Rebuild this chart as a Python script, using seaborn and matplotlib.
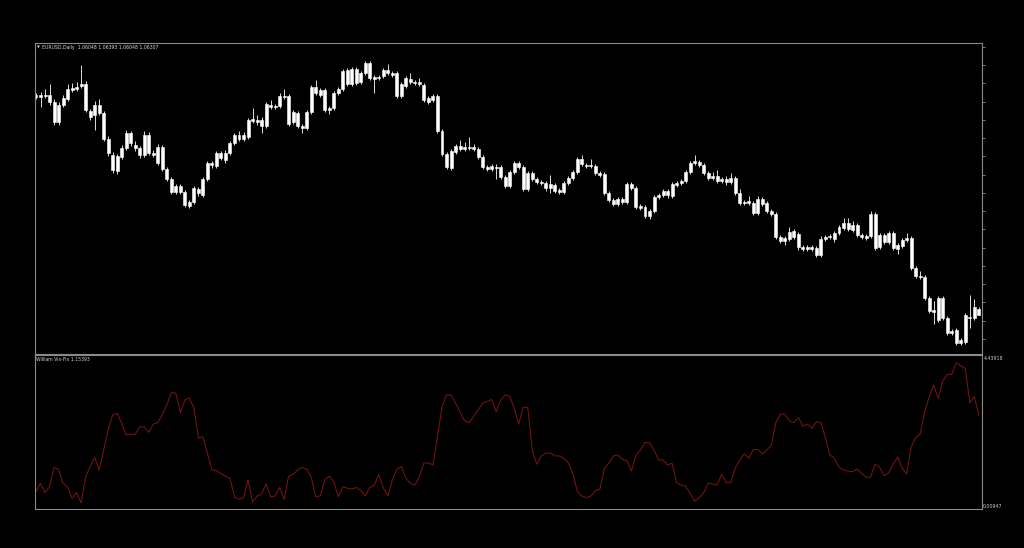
import matplotlib
matplotlib.use("Agg")
import matplotlib.pyplot as plt
import numpy as np
import pandas as pd
import seaborn as sns
from matplotlib.ticker import MultipleLocator

# EURUSD daily candles, prices in pips (price * 10000)
opens = [
    11479, 11487, 11483, 11487, 11459, 11379, 11447, 11471, 11507, 11511,
    11523, 11531, 11423, 11407, 11447, 11415, 11311, 11247, 11183, 11239,
    11275, 11335, 11287, 11275, 11247, 11327, 11255, 11215, 11279, 11191,
    11151, 11099, 11123, 11099, 11059, 11059, 11111, 11087, 11151, 11215,
    11203, 11255, 11227, 11255, 11295, 11327, 11311, 11319, 11383, 11387,
    11387, 11363, 11447, 11439, 11443, 11479, 11483, 11379, 11415, 11363,
    11355, 11419, 11519, 11507, 11507, 11427, 11435, 11495, 11511, 11587,
    11531, 11591, 11539, 11575, 11615, 11559, 11555, 11563, 11587, 11575,
    11575, 11483, 11523, 11551, 11539, 11531, 11527, 11459, 11467, 11483,
    11343, 11251, 11195, 11259, 11283, 11271, 11279, 11279, 11271, 11239,
    11199, 11191, 11199, 11199, 11159, 11123, 11179, 11215, 11199, 11111,
    11175, 11151, 11139, 11135, 11115, 11127, 11107, 11099, 11135, 11155,
    11179, 11231, 11207, 11203, 11203, 11175, 11171, 11095, 11067, 11051,
    11059, 11059, 11131, 11115, 11043, 11039, 11003, 11023, 11079, 11087,
    11103, 11083, 11127, 11135, 11143, 11179, 11215, 11219, 11207, 11175,
    11163, 11163, 11143, 11151, 11139, 11155, 11095, 11059, 11055, 11055,
    11015, 11071, 11055, 11023, 11011, 10919, 10903, 10911, 10943, 10931,
    10879, 10871, 10879, 10875, 10847, 10911, 10919, 10911, 10935, 10955,
    10975, 10947, 10967, 10927, 10915, 10923, 11011, 10879, 10927, 10899,
    10935, 10871, 10883, 10907, 10915, 10795, 10763, 10759, 10675, 10627,
    10587, 10675, 10595, 10543, 10547, 10495, 10499, 10599, 10595, 10605,
]
highs = [
    11495, 11499, 11511, 11531, 11471, 11459, 11487, 11531, 11535, 11539,
    11607, 11543, 11431, 11463, 11471, 11423, 11323, 11259, 11251, 11287,
    11347, 11343, 11303, 11283, 11343, 11339, 11267, 11291, 11287, 11199,
    11159, 11131, 11131, 11107, 11067, 11123, 11119, 11159, 11223, 11223,
    11263, 11263, 11267, 11303, 11335, 11343, 11339, 11395, 11435, 11407,
    11399, 11459, 11467, 11451, 11495, 11511, 11491, 11427, 11423, 11371,
    11427, 11527, 11547, 11515, 11515, 11443, 11503, 11519, 11591, 11595,
    11599, 11599, 11583, 11623, 11623, 11567, 11567, 11595, 11611, 11583,
    11583, 11539, 11563, 11575, 11547, 11555, 11535, 11483, 11491, 11491,
    11351, 11259, 11271, 11291, 11307, 11299, 11319, 11291, 11279, 11247,
    11207, 11211, 11211, 11207, 11167, 11187, 11223, 11223, 11207, 11183,
    11183, 11159, 11147, 11143, 11167, 11135, 11115, 11143, 11163, 11187,
    11239, 11247, 11215, 11231, 11211, 11183, 11179, 11103, 11075, 11079,
    11079, 11139, 11139, 11123, 11051, 11047, 11031, 11087, 11095, 11111,
    11111, 11139, 11143, 11151, 11187, 11223, 11247, 11227, 11215, 11183,
    11179, 11187, 11159, 11163, 11175, 11163, 11111, 11067, 11083, 11063,
    11083, 11079, 11063, 11031, 11019, 10927, 10923, 10959, 10951, 10939,
    10887, 10887, 10887, 10883, 10923, 10927, 10931, 10943, 10967, 10995,
    10995, 10983, 10975, 10935, 10931, 11023, 11019, 10935, 10935, 10943,
    10943, 10895, 10915, 10935, 10923, 10803, 10783, 10767, 10683, 10663,
    10683, 10683, 10603, 10551, 10555, 10515, 10615, 10687, 10671, 10639,
]
lows = [
    11471, 11439, 11475, 11447, 11367, 11367, 11439, 11463, 11499, 11503,
    11515, 11419, 11387, 11347, 11407, 11303, 11243, 11175, 11171, 11231,
    11267, 11283, 11263, 11235, 11239, 11247, 11239, 11207, 11183, 11143,
    11091, 11091, 11091, 11039, 11035, 11051, 11083, 11079, 11143, 11195,
    11195, 11227, 11215, 11247, 11287, 11303, 11303, 11311, 11375, 11367,
    11335, 11355, 11431, 11431, 11435, 11471, 11363, 11371, 11355, 11335,
    11347, 11411, 11487, 11479, 11419, 11411, 11427, 11487, 11503, 11523,
    11523, 11527, 11531, 11567, 11547, 11495, 11547, 11555, 11567, 11559,
    11475, 11475, 11515, 11531, 11527, 11523, 11459, 11451, 11459, 11335,
    11243, 11191, 11187, 11251, 11263, 11263, 11267, 11263, 11231, 11191,
    11183, 11183, 11151, 11151, 11115, 11115, 11171, 11191, 11103, 11103,
    11143, 11131, 11127, 11103, 11095, 11095, 11091, 11091, 11127, 11147,
    11171, 11203, 11195, 11195, 11167, 11159, 11087, 11059, 11043, 11043,
    11051, 11051, 11107, 11031, 11027, 10995, 10991, 11015, 11071, 11079,
    11075, 11075, 11119, 11127, 11135, 11171, 11207, 11199, 11167, 11147,
    11147, 11135, 11135, 11127, 11131, 11087, 11047, 11047, 11047, 11007,
    11007, 11043, 11015, 11003, 10911, 10895, 10887, 10903, 10911, 10867,
    10863, 10863, 10863, 10839, 10839, 10903, 10911, 10899, 10927, 10947,
    10943, 10939, 10919, 10911, 10907, 10915, 10867, 10871, 10891, 10891,
    10867, 10851, 10875, 10899, 10787, 10755, 10751, 10667, 10615, 10571,
    10579, 10587, 10527, 10527, 10487, 10487, 10491, 10555, 10587, 10605,
]
closes = [
    11487, 11479, 11487, 11459, 11379, 11447, 11475, 11511, 11515, 11519,
    11531, 11427, 11399, 11447, 11415, 11311, 11255, 11187, 11243, 11275,
    11335, 11295, 11275, 11247, 11327, 11255, 11247, 11279, 11191, 11151,
    11099, 11123, 11099, 11047, 11043, 11115, 11095, 11151, 11215, 11207,
    11255, 11235, 11255, 11295, 11327, 11311, 11327, 11387, 11391, 11379,
    11363, 11451, 11439, 11443, 11483, 11483, 11371, 11419, 11363, 11355,
    11419, 11519, 11495, 11487, 11427, 11435, 11495, 11511, 11583, 11531,
    11591, 11535, 11575, 11615, 11555, 11551, 11559, 11587, 11575, 11567,
    11483, 11531, 11555, 11539, 11535, 11539, 11467, 11475, 11483, 11343,
    11251, 11199, 11263, 11283, 11271, 11279, 11275, 11271, 11239, 11199,
    11191, 11203, 11195, 11159, 11123, 11179, 11215, 11199, 11111, 11175,
    11151, 11139, 11135, 11115, 11131, 11103, 11099, 11135, 11155, 11179,
    11231, 11211, 11203, 11207, 11175, 11167, 11095, 11067, 11051, 11071,
    11071, 11131, 11115, 11039, 11035, 11003, 11023, 11079, 11087, 11103,
    11087, 11131, 11135, 11143, 11179, 11215, 11223, 11207, 11175, 11155,
    11155, 11143, 11151, 11139, 11155, 11095, 11055, 11055, 11063, 11015,
    11071, 11051, 11023, 11011, 10919, 10903, 10915, 10939, 10919, 10879,
    10871, 10879, 10871, 10847, 10911, 10919, 10923, 10935, 10959, 10975,
    10951, 10967, 10927, 10919, 10923, 11011, 10875, 10927, 10899, 10935,
    10875, 10887, 10907, 10915, 10795, 10763, 10759, 10675, 10623, 10619,
    10675, 10595, 10535, 10535, 10495, 10507, 10607, 10595, 10639, 10631,
]

# William Vix-Fix values, one per bar
vixfix = [
    0.48, 0.72, 0.45, 0.62, 1.19, 1.13, 0.72, 0.62, 0.28, 0.45,
    0.15, 0.91, 1.21, 1.48, 1.11, 1.69, 2.28, 2.72, 2.77, 2.47,
    2.13, 2.16, 2.15, 2.37, 2.37, 2.21, 2.45, 2.49, 2.72, 3.01,
    3.37, 3.35, 2.78, 3.15, 3.22, 2.91, 2.05, 2.08, 1.60, 1.11,
    1.09, 1.01, 0.93, 0.87, 0.33, 0.25, 0.30, 0.82, 0.18, 0.35,
    0.41, 0.70, 0.33, 0.35, 0.60, 0.25, 0.93, 0.98, 1.11, 1.19,
    1.13, 0.91, 0.33, 0.35, 0.82, 0.93, 0.77, 0.33, 0.62, 0.58,
    0.55, 0.60, 0.51, 0.35, 0.60, 0.67, 0.98, 0.58, 0.35, 0.82,
    1.13, 1.21, 0.87, 0.72, 0.67, 0.91, 1.32, 1.31, 1.26, 2.08,
    2.96, 3.30, 3.30, 3.06, 2.81, 2.55, 2.49, 2.67, 2.86, 3.06,
    3.10, 3.17, 2.81, 3.15, 3.30, 3.27, 2.91, 2.45, 2.94, 2.94,
    1.69, 1.28, 1.52, 1.60, 1.61, 1.52, 1.52, 1.45, 1.32, 1.01,
    0.48, 0.35, 0.30, 0.35, 0.51, 0.55, 1.16, 1.32, 1.52, 1.55,
    1.42, 1.38, 1.08, 1.55, 1.69, 1.91, 1.91, 1.69, 1.40, 1.40,
    1.26, 1.31, 0.74, 0.67, 0.64, 0.43, 0.20, 0.30, 0.45, 0.72,
    0.70, 0.67, 0.99, 0.74, 0.74, 1.16, 1.40, 1.58, 1.45, 1.71,
    1.71, 1.58, 1.69, 1.84, 2.49, 2.74, 2.74, 2.55, 2.49, 2.64,
    2.39, 2.45, 2.33, 2.52, 2.49, 2.04, 1.55, 1.45, 1.19, 1.11,
    1.08, 1.06, 1.14, 1.01, 0.90, 0.90, 1.28, 1.19, 0.94, 1.03,
    1.28, 1.48, 1.16, 0.99, 1.79, 2.06, 2.16, 2.81, 3.25, 3.59,
    3.20, 3.71, 3.90, 3.91, 4.24, 4.15, 4.08, 3.07, 3.25, 2.72,
]

title_main = "EURUSD,Daily  1.06048 1.06393 1.06048 1.06307"
title_ind = "William Vix-Fix 1.15393"
ind_max_label = "4.43918"
ind_min_label = "0.00947"

df = pd.DataFrame({
    "bar": np.arange(len(closes)),
    "open": np.array(opens) / 10000,
    "high": np.array(highs) / 10000,
    "low": np.array(lows) / 10000,
    "close": np.array(closes) / 10000,
    "vixfix": vixfix,
})

sns.set_theme(style="dark", rc={
    "figure.facecolor": "black",
    "axes.facecolor": "black",
    "axes.edgecolor": "#8a8a8a",
    "axes.linewidth": 0.8,
    "axes.grid": False,
})
plt.rcParams["font.family"] = ["DejaVu Sans"]

W, H = 1024, 548
fig = plt.figure(figsize=(W / 100, H / 100), dpi=100)
ax1 = fig.add_axes([35 / W, 1 - 354 / H, 947 / W, 311 / H])
ax2 = fig.add_axes([35 / W, 1 - 509 / H, 947 / W, 154 / H])

# candles: wicks + white bodies
ax1.vlines(df["bar"], df["low"], df["high"], color="white", linewidth=0.6)
body_lo = np.minimum(df["open"], df["close"])
body_h = np.abs(df["close"] - df["open"])
ax1.bar(df["bar"], body_h, bottom=body_lo, width=0.66,
        color="white", edgecolor="white", linewidth=0.4)
ax1.set_xlim(-0.22, 209.7)
ax1.set_ylim(1.0451, 1.1695)

# indicator line
sns.lineplot(data=df, x="bar", y="vixfix", ax=ax2, color="#741510", linewidth=0.75)
ax2.set_xlim(-0.22, 209.7)
ax2.set_ylim(-0.029, 4.468)

for ax in (ax1, ax2):
    ax.set_xlabel("")
    ax.set_ylabel("")
    ax.set_xticks([])
    for s in ax.spines.values():
        s.set_color("#8a8a8a")
        s.set_linewidth(0.8)

ax1.yaxis.tick_right()
ax1.yaxis.set_major_locator(MultipleLocator(0.0073))
ax1.tick_params(axis="y", which="major", length=2, width=0.6, color="#8a8a8a",
                labelright=False, labelleft=False, direction="out")
ax2.set_yticks([])

# texts (pixel positions)
def px(x, y):
    return x / W, 1 - y / H

fig.text(*px(36.5, 47.5), "\u25bc", color="#d0d0d0", fontsize=2.6, va="center", ha="left")
fig.text(*px(42.5, 47.5), title_main, color="#d8d8d8", fontsize=3.3, va="center", ha="left")
fig.text(*px(36.5, 359.5), title_ind, color="#d0d0d0", fontsize=3.3, va="center", ha="left")
fig.text(*px(984, 358), ind_max_label, color="#c8c8c8", fontsize=3.4, va="center", ha="left")
fig.text(*px(983, 506), ind_min_label, color="#c8c8c8", fontsize=3.4, va="center", ha="left")

fig.savefig("out.png", dpi=100, facecolor="black")
